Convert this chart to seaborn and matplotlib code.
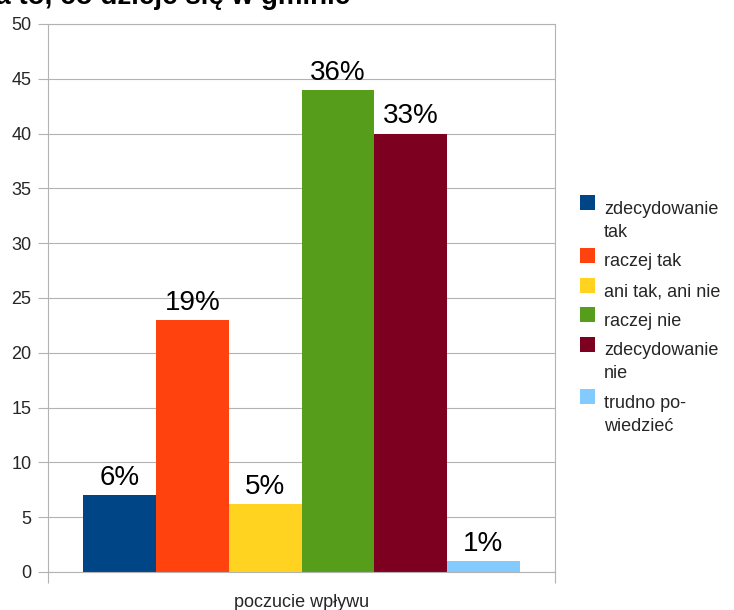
import matplotlib
matplotlib.use("Agg")
import matplotlib.pyplot as plt
import seaborn as sns
import pandas as pd
from matplotlib.legend_handler import HandlerPatch
from matplotlib.patches import Rectangle

# ---- data ----
group = ["poczucie wpływu"]
answers = ["zdecydowanie\ntak", "raczej tak", "ani tak, ani nie", "raczej nie",
           "zdecydowanie\nnie", "trudno po-\nwiedzieć"]
values = [7, 23, 6.2, 44, 40, 1]
pct_labels = ["6%", "19%", "5%", "36%", "33%", "1%"]
colors = ["#004586", "#ff420e", "#ffd320", "#579d1c", "#7e0021", "#83caff"]
title = "Poczucie wpływu na to, co dzieje się w gminie"
yticks = list(range(0, 51, 5))

df = pd.DataFrame({"grupa": group * len(answers), "odpowiedź": answers, "wartość": values})

sns.set_theme(style="white")
plt.rcParams["font.family"] = ["Liberation Sans", "DejaVu Sans"]

W, H = 734, 610
fig = plt.figure(figsize=(W / 100, H / 100), dpi=100)
ax = fig.add_axes([48 / W, 1 - 572 / H, (555 - 48) / W, (572 - 24) / H])

gray = "#b3b3b3"

sns.barplot(data=df, x="grupa", y="wartość", hue="odpowiedź", hue_order=answers,
            palette=colors, saturation=1, width=0.86, dodge=True, errorbar=None,
            legend=False, ax=ax, edgecolor="none", linewidth=0)

for cont, lab in zip(ax.containers, pct_labels):
    ax.bar_label(cont, labels=[lab], padding=3, fontsize=20, color="black")

ax.set_xlim(-0.5, 0.5)
ax.set_ylim(0, 50)
ax.set_yticks(yticks)
ax.set_xticks([0], labels=group)
ax.set_xticks([-0.5, 0.5], minor=True)
ax.set_xlabel("")
ax.set_ylabel("")
ax.tick_params(axis="x", which="major", length=0, pad=16, labelsize=13, bottom=True)
ax.tick_params(axis="x", which="minor", length=8, width=0.8, color=gray, direction="out", bottom=True)
ax.tick_params(axis="y", length=7, width=0.8, color=gray, direction="out", pad=5,
               labelsize=13, left=True)
ax.yaxis.grid(True, color=gray, lw=0.8)
ax.xaxis.grid(False)
ax.set_axisbelow(True)
for s in ax.spines.values():
    s.set_visible(True)
    s.set_color(gray)
    s.set_linewidth(0.8)


class SquareHandler(HandlerPatch):
    def __init__(self, lift):
        super().__init__()
        self.lift = lift

    def create_artists(self, legend, orig_handle, xdescent, ydescent, width, height,
                       fontsize, trans):
        r = Rectangle((-xdescent, -ydescent + self.lift), width, width,
                      facecolor=orig_handle.get_facecolor(), edgecolor="none",
                      transform=trans)
        return [r]


handles = [c.patches[0] for c in ax.containers]
hmap = {}
for h, lab in zip(handles, answers):
    n = lab.count("\n") + 1
    hmap[h] = SquareHandler(2.5 + (n - 1) * 9.8)

leg = ax.legend(handles, answers, handler_map=hmap, loc="upper left",
                bbox_to_anchor=(580 / W, 1 - 201 / H), bbox_transform=fig.transFigure,
                frameon=False, fontsize=13, handlelength=0.83, handleheight=0.7,
                handletextpad=0.5, labelspacing=0.7, borderpad=0, borderaxespad=0)
for t in leg.get_texts():
    t.set_linespacing(1.45)

fig.text(350 / W, 1 - 4 / H, title, ha="right", va="baseline", fontsize=20,
         fontweight="bold", color="black")

fig.savefig("out.png", dpi=100)
